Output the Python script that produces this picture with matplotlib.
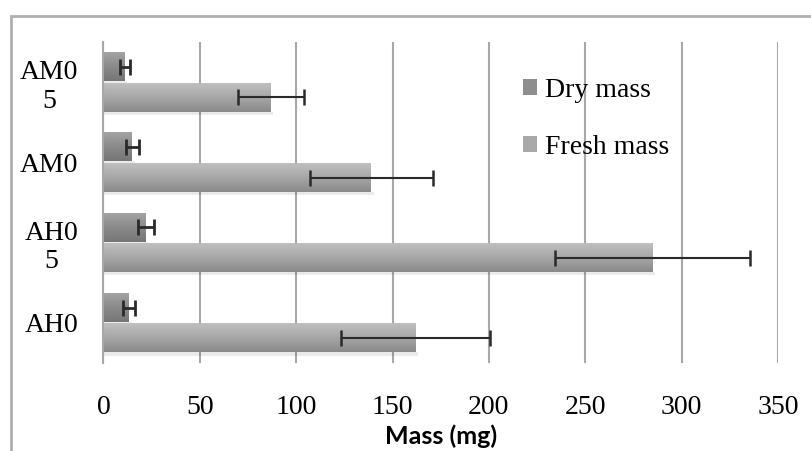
import matplotlib.pyplot as plt
import numpy as np
from matplotlib.patches import Rectangle
from matplotlib.colors import LinearSegmentedColormap

# samples, bottom to top
samples = ["AH0", "AH0\n5", "AM0", "AM0\n5"]
dry = [13.4, 22, 15, 11.2]
dry_err = [3, 4, 3.3, 2.6]
fresh = [162, 285, 139, 87]
fresh_err = [38.5, 50.5, 32, 17.3]

serif = "Liberation Serif"

fig = plt.figure(figsize=(8.11, 4.51), dpi=100)
ax = fig.add_axes([0.1275, 0.1951, 0.8318, 0.7118])

y = np.arange(len(samples))
h = 0.355

dry_bars = ax.barh(y + 0.19, dry, height=h, color="#8e8e8e", zorder=2)
fresh_bars = ax.barh(y - 0.19, fresh, height=h, color="#a9a9a9", zorder=2)

# soft vertical shading on each bar
dry_cmap = LinearSegmentedColormap.from_list("dry", ["#a4a4a4", "#8a8a8a", "#767676"])
fresh_cmap = LinearSegmentedColormap.from_list("fresh", ["#c0c0c0", "#a6a6a6", "#8a8a8a"])
grad = np.linspace(0, 1, 64).reshape(-1, 1)
for bars, cmap in [(dry_bars, dry_cmap), (fresh_bars, fresh_cmap)]:
    for b in bars:
        x0, y0 = b.get_x(), b.get_y()
        w, hh = b.get_width(), b.get_height()
        # shadow under the bar
        ax.add_patch(Rectangle((x0, y0 - 0.04), w + 1.2, 0.04, color="#000000",
                               alpha=0.08, lw=0, zorder=1.5))
        ax.imshow(grad, cmap=cmap, aspect="auto", extent=(x0, x0 + w, y0, y0 + hh),
                  origin="upper", zorder=2.5, interpolation="bilinear")

ax.errorbar(dry, y + 0.19, xerr=dry_err, fmt="none", ecolor="#2a2a2a",
            elinewidth=2, capsize=6, capthick=2, zorder=4)
ax.errorbar(fresh, y - 0.19, xerr=fresh_err, fmt="none", ecolor="#2a2a2a",
            elinewidth=1.5, capsize=6, capthick=1.8, zorder=4)

ax.set_xlim(0, 350)
ax.set_ylim(-0.5, 3.5)
ax.set_xticks(np.arange(0, 351, 50))
ax.set_yticks(y)
ax.set_yticklabels(samples, fontfamily=serif, fontsize=20, multialignment="center")
ax.tick_params(axis="y", length=0, pad=18)
ax.tick_params(axis="x", length=0, pad=23)
for t in ax.get_xticklabels():
    t.set_fontfamily(serif)
    t.set_fontsize(20)

ax.grid(axis="x", color="#a8a8a8", lw=1.5, zorder=0)
ax.set_axisbelow(True)
for s in ["top", "right", "bottom"]:
    ax.spines[s].set_visible(False)
ax.spines["left"].set_color("#a8a8a8")
ax.spines["left"].set_linewidth(1.5)

ax.set_xlabel("Mass (mg)", fontfamily="Lato", fontweight="bold", fontsize=18, labelpad=3)

leg = ax.legend([dry_bars, fresh_bars], ["Dry mass", "Fresh mass"],
                loc="upper left", bbox_to_anchor=(523 / 811, 1 - 78 / 451),
                bbox_transform=fig.transFigure, frameon=False,
                prop={"family": serif, "size": 20}, handlelength=0.5,
                handleheight=0.5, handletextpad=0.3, labelspacing=1.15,
                borderpad=0, borderaxespad=0)

# outer chart frame
fig.patches.append(Rectangle((11 / 811, -0.1), 1.2, 1.1 - 16 / 451, transform=fig.transFigure,
                             fill=False, edgecolor="#b0b0b0", lw=2))

fig.savefig("out.png", dpi=100)
